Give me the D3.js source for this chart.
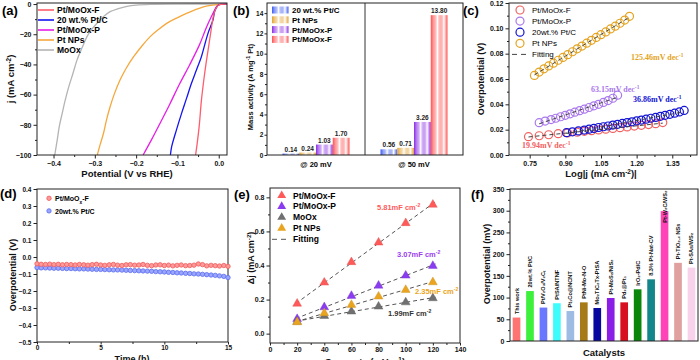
<!DOCTYPE html>
<html>
<head>
<meta charset="utf-8">
<script src="https://cdn.jsdelivr.net/npm/d3@7"></script>
<style>
body { margin: 0; background: #fff; }
svg { font-family: "Liberation Sans", Arial, sans-serif; }
</style>
</head>
<body>
<svg id="fig" width="700" height="360"></svg>
<script>
// ---------- (a) LSV curves ----------
const lsvNames = ["Pt/MoOx-F", "20 wt.% Pt/C", "Pt/MoOx-P", "Pt NPs", "MoOx"];
const lsvPotF = [0.02, 0.005, 0.0, -0.005, -0.010, -0.015, -0.020, -0.025, -0.030, -0.036, -0.042, -0.047, -0.052, -0.056];
const lsvJF   = [0, -0.2, -0.6, -2, -5, -11, -20, -29, -38, -50, -64, -80, -92, -100];
const lsvPotC = [0.02, 0.005, 0.0, -0.005, -0.010, -0.014, -0.020, -0.026, -0.034, -0.042, -0.054, -0.066, -0.078, -0.090, -0.102, -0.114, -0.117];
const lsvJC   = [0, -0.2, -0.5, -2, -5, -10.6, -15, -19.4, -27, -34.9, -43.7, -52.5, -62.5, -72.4, -83, -94.5, -100];
const lsvPotP = [0.02, 0.005, 0.0, -0.005, -0.010, -0.018, -0.026, -0.034, -0.047, -0.070, -0.094, -0.118, -0.142, -0.162, -0.183];
const lsvJP   = [0, -0.2, -0.5, -1.5, -4, -8.4, -13, -18.3, -27.2, -40, -52.5, -66, -79, -89.5, -100];
const lsvPotN = [0.02, 0.0, -0.010, -0.030, -0.055, -0.078, -0.102, -0.126, -0.146, -0.166, -0.186, -0.206, -0.224, -0.239, -0.252, -0.263, -0.272, -0.279, -0.287, -0.294];
const lsvJN   = [0, -0.3, -0.6, -1.3, -3.5, -6.2, -9.3, -12.8, -16.9, -21.6, -27.8, -34.9, -42.5, -50.3, -59, -68, -77, -85.6, -93, -100];
const lsvPotM = [0.02, -0.10, -0.166, -0.200, -0.222, -0.243, -0.263, -0.280, -0.295, -0.308, -0.319, -0.331, -0.343, -0.353, -0.363, -0.372, -0.379, -0.386, -0.391, -0.397];
const lsvJM   = [0, 0, -0.2, -0.7, -1.5, -3, -5, -8.5, -12.8, -17, -21.6, -29, -37, -46, -54.7, -64, -72.4, -81, -90, -100];

// ---------- (b) mass activity ----------
const maGroups = ["@ 20 mV", "@ 50 mV"];
const maSeries = ["20 wt.% Pt/C", "Pt NPs", "Pt/MoOx-P", "Pt/MoOx-F"];
const maPtC  = [0.14, 0.56];
const maPtNP = [0.24, 0.71];
const maP    = [1.03, 3.26];
const maF    = [1.70, 13.80];

// ---------- (c) Tafel ----------
const tafNames = ["Pt/MoOx-F", "Pt/MoOx-P", "20wt.% Pt/C", "Pt NPs"];
const tafSlopes = ["19.94", "63.15", "36.86", "125.46"];
const tafXF = [0.745, 0.79, 0.83, 0.87, 0.91, 0.95, 0.98, 1.01, 1.04, 1.07, 1.10, 1.13, 1.16, 1.19, 1.22, 1.25, 1.28, 1.31];
const tafYF = [0.0145, 0.0152, 0.016, 0.0168, 0.0174, 0.018, 0.0187, 0.0192, 0.0198, 0.0204, 0.021, 0.0216, 0.0222, 0.0228, 0.0234, 0.024, 0.0247, 0.0256];
const tafXP = [0.79, 0.815, 0.84, 0.86, 0.88, 0.90, 0.92, 0.94, 0.96, 0.98, 1.00, 1.02, 1.04, 1.06, 1.08, 1.10, 1.12];
const tafYP = [0.0255, 0.0268, 0.028, 0.029, 0.0302, 0.0313, 0.0325, 0.0338, 0.035, 0.0362, 0.0375, 0.0388, 0.040, 0.0415, 0.043, 0.0448, 0.0472];
const tafXC = [0.905, 0.93, 0.955, 0.98, 1.0, 1.02, 1.04, 1.06, 1.08, 1.10, 1.12, 1.14, 1.16, 1.18, 1.20, 1.22, 1.24, 1.26, 1.28, 1.30, 1.32, 1.34, 1.36, 1.38, 1.40];
const tafYC = [0.0176, 0.0183, 0.019, 0.0197, 0.0204, 0.021, 0.0217, 0.0223, 0.0229, 0.0236, 0.0242, 0.0249, 0.0256, 0.0262, 0.0269, 0.0276, 0.0283, 0.029, 0.0297, 0.0305, 0.0313, 0.0321, 0.033, 0.034, 0.0352];
const tafXN = [0.77, 0.79, 0.81, 0.83, 0.85, 0.87, 0.89, 0.91, 0.93, 0.95, 0.97, 0.99, 1.01, 1.03, 1.05, 1.07, 1.09, 1.11, 1.13, 1.15, 1.17];
const tafYN = [0.0628, 0.0655, 0.068, 0.0703, 0.0725, 0.0748, 0.077, 0.0792, 0.0815, 0.0838, 0.086, 0.0883, 0.0905, 0.0928, 0.095, 0.0972, 0.0995, 0.1017, 0.104, 0.1065, 0.1095];

// ---------- (d) stability ----------
const stabTime = [0, 0.33, 0.67, 1, 1.33, 1.67, 2, 2.33, 2.67, 3, 3.33, 3.67, 4, 4.33, 4.67, 5, 5.33, 5.67, 6, 6.33, 6.67, 7, 7.33, 7.67,
  8, 8.33, 8.67, 9, 9.33, 9.67, 10, 10.33, 10.67, 11, 11.33, 11.67, 12, 12.33, 12.67, 13, 13.33, 13.67, 14, 14.33, 14.67, 15];
const stabF = [-0.040, -0.043, -0.044, -0.042, -0.045, -0.043, -0.046, -0.044, -0.045, -0.047, -0.044, -0.046, -0.048, -0.045, -0.043, -0.047,
  -0.049, -0.046, -0.044, -0.048, -0.050, -0.046, -0.045, -0.048, -0.047, -0.044, -0.049, -0.051, -0.047, -0.046, -0.050, -0.048,
  -0.052, -0.049, -0.047, -0.051, -0.050, -0.048, -0.041, -0.045, -0.052, -0.049, -0.051, -0.053, -0.050, -0.055];
const stabC = [-0.062, -0.064, -0.064, -0.065, -0.066, -0.066, -0.067, -0.068, -0.068, -0.069, -0.070, -0.070, -0.071, -0.072, -0.073, -0.073,
  -0.074, -0.075, -0.076, -0.076, -0.077, -0.078, -0.079, -0.080, -0.081, -0.082, -0.083, -0.084, -0.086, -0.087, -0.088, -0.090,
  -0.091, -0.093, -0.094, -0.096, -0.097, -0.099, -0.100, -0.102, -0.104, -0.106, -0.108, -0.111, -0.114, -0.121];

// ---------- (e) double layer ----------
const scanRate = [20, 40, 60, 80, 100, 120];
const cdlF = [0.176, 0.300, 0.420, 0.535, 0.649, 0.757];
const cdlP = [0.086, 0.155, 0.222, 0.282, 0.341, 0.398];
const cdlM = [0.070, 0.104, 0.130, 0.159, 0.184, 0.208];
const cdlN = [0.067, 0.120, 0.169, 0.218, 0.257, 0.302];
const cdlLabels = ["5.81", "3.07", "1.99", "2.35"];

// ---------- (f) comparison ----------
const cmpNames = ["This work", "20wt.% Pt/C", "Pt/V₂O₃/V₂Cₜ", "PtSA/NTNF", "Pt₁Co@NCNT", "PtNi-Mo-N-O", "Mo₂TiC₂Tx-PtSA",
  "Pt-MoS₂/NiS₂", "Pd₁@Pt₁", "IrO₂-Pd/C", "8.3% Pt-Nat-CV", "Pt-W₂C/WS₂", "Pt-TiO₂₋ₓ NSs", "Pt-SAs/WS₂"];
const cmpValues = [54, 115, 77, 87, 69, 89, 76, 99, 89, 119, 142, 299, 180, 169];
const cmpColors = ["#ff7373", "#3cf03c", "#6a78ff", "#3ffcfc", "#9dbbe3", "#a67a16", "#06089e", "#8a1ee6",
  "#d6101e", "#0a860a", "#12868a", "#ff44b8", "#e0a0a0", "#f8d2ea"];

const svg = d3.select("#fig");
const defs = svg.append("defs");
const bold = "bold";

function rich(sel, parts) {
  parts.forEach(p => {
    if (typeof p === "string") sel.append("tspan").text(p);
    else sel.append("tspan").attr("baseline-shift", p.sup ? "super" : "sub").attr("font-size", "68%").text(p.sup || p.sub);
  });
  return sel;
}

function axes(g, box, xs, ys, o) {
  const xt = o.xTick || 3.5, xp = o.xPad === undefined ? 2.5 : o.xPad;
  const yt = o.yTick || 3.5, yp = o.yPad === undefined ? 2 : o.yPad;
  if (o.xMinor) g.append("g").attr("transform", `translate(0,${box.y1})`)
    .call(d3.axisBottom(xs).tickValues(o.xMinor).tickSize(2).tickFormat(""));
  if (o.xTicks) g.append("g").attr("transform", `translate(0,${box.y1})`)
    .call(d3.axisBottom(xs).tickValues(o.xTicks).tickSize(xt).tickPadding(xp).tickFormat(o.xFmt));
  if (o.yMinor) g.append("g").attr("transform", `translate(${box.x0},0)`)
    .call(d3.axisLeft(ys).tickValues(o.yMinor).tickSize(2).tickFormat(""));
  g.append("g").attr("transform", `translate(${box.x0},0)`)
    .call(d3.axisLeft(ys).tickValues(o.yTicks).tickSize(yt).tickPadding(yp).tickFormat(o.yFmt));
  g.selectAll(".domain").remove();
  g.selectAll("g").attr("font-family", null);
  g.selectAll(".tick text").attr("font-size", o.fs || 7).attr("font-weight", bold).attr("fill", "#111");
  g.selectAll(".tick line").attr("stroke", "#222");
  g.append("rect").attr("x", box.x0).attr("y", box.y0)
    .attr("width", box.x1 - box.x0).attr("height", box.y1 - box.y0)
    .attr("fill", "none").attr("stroke", "#222").attr("stroke-width", 1);
}

function yTitle(x, y, parts, fs) {
  rich(svg.append("text").attr("transform", `translate(${x},${y}) rotate(-90)`)
    .attr("text-anchor", "middle").attr("dy", "0.35em")
    .attr("font-size", fs).attr("font-weight", bold).attr("fill", "#111"), parts);
}
function xTitle(x, y, parts, fs) {
  rich(svg.append("text").attr("x", x).attr("y", y).attr("text-anchor", "middle")
    .attr("font-size", fs).attr("font-weight", bold).attr("fill", "#111"), parts);
}
function letter(x, y, t) {
  svg.append("text").attr("x", x).attr("y", y).attr("font-size", 13).attr("font-weight", bold).text(t);
}

// ================= (a) =================
{
  const box = {x0: 37, x1: 227, y0: 3, y1: 155};
  const x = d3.scaleLinear().domain([-0.44, 0.02]).range([box.x0, box.x1]);
  const y = d3.scaleLinear().domain([-100, 0.7]).range([box.y1, box.y0]);
  const g = svg.append("g");
  const curves = [
    {pot: lsvPotM, j: lsvJM, c: "#b4b4b4"},
    {pot: lsvPotN, j: lsvJN, c: "#f5a83c"},
    {pot: lsvPotP, j: lsvJP, c: "#e61ee6"},
    {pot: lsvPotC, j: lsvJC, c: "#1414f0"},
    {pot: lsvPotF, j: lsvJF, c: "#ff5c6c"}
  ];
  curves.forEach(cv => {
    g.append("path").datum(d3.zip(cv.pot, cv.j)).attr("d", d3.line().x(d => x(d[0])).y(d => y(d[1])).curve(d3.curveCatmullRom))
      .attr("fill", "none").attr("stroke", cv.c).attr("stroke-width", 1.3);
  });
  axes(g, box, x, y, {
    xTicks: [-0.4, -0.3, -0.2, -0.1, 0.0], xFmt: d3.format(".1f"), xMinor: [-0.35, -0.25, -0.15, -0.05],
    yTicks: [0, -20, -40, -60, -80, -100], yFmt: d3.format("d"), yMinor: [-10, -30, -50, -70, -90]
  });
  const lc = ["#ff5c6c", "#1414f0", "#e61ee6", "#f5a83c", "#b4b4b4"];
  lsvNames.forEach((n, i) => {
    const yy = 10 + i * 10;
    g.append("line").attr("x1", 38).attr("x2", 54).attr("y1", yy).attr("y2", yy).attr("stroke", lc[i]).attr("stroke-width", 1.6);
    g.append("text").attr("x", 57).attr("y", yy + 3).attr("font-size", 8.5).attr("font-weight", bold).text(n);
  });
  xTitle(127, 177, ["Potential (V vs RHE)"], 9.5);
  yTitle(11, 79, ["j (mA cm", {sup: "-2"}, ")"], 9.5);
  letter(2, 15, "(a)");
}

// ================= (b) =================
{
  const box = {x0: 267, x1: 463, y0: 3, y1: 155};
  const x0 = d3.scaleBand().domain(maGroups).range([box.x0, box.x1]);
  const x1 = d3.scaleBand().domain(maSeries).range([15.5, 82.5]);
  const y = d3.scaleLinear().domain([0, 15]).range([box.y1, box.y0]);
  const g = svg.append("g");
  const cols = ["#3d5cf2", "#e3a22e", "#8a2de6", "#ff5252"];
  const vals = [maPtC, maPtNP, maP, maF];
  cols.forEach((c, i) => {
    const gr = defs.append("linearGradient").attr("id", "gb" + i).attr("x1", "0").attr("x2", "1").attr("y1", "0").attr("y2", "0");
    [[0, c, 1], [0.18, c, 0.55], [0.4, "#fff", 1], [0.6, c, 0.45], [0.78, "#fff", 1], [1, c, 1]].forEach(s =>
      gr.append("stop").attr("offset", s[0]).attr("stop-color", s[1]).attr("stop-opacity", s[2]));
  });
  maGroups.forEach((grp, gi) => {
    maSeries.forEach((s, si) => {
      const v = vals[si][gi];
      const bx = x0(grp) + x1(s);
      g.append("rect").attr("x", bx).attr("y", y(v)).attr("width", x1.bandwidth()).attr("height", y(0) - y(v))
        .attr("fill", `url(#gb${si})`);
      g.append("text").attr("x", bx + x1.bandwidth() / 2).attr("y", y(v) - 2).attr("text-anchor", "middle")
        .attr("font-size", 6.5).attr("font-weight", bold).attr("fill", "#222").text(v.toFixed(2));
    });
    g.append("text").attr("x", x0(grp) + x0.bandwidth() / 2).attr("y", 166.5).attr("text-anchor", "middle")
      .attr("font-size", 7.5).attr("font-weight", bold).text(grp);
  });
  g.append("line").attr("x1", x0(maGroups[1])).attr("x2", x0(maGroups[1])).attr("y1", box.y0).attr("y2", box.y1).attr("stroke", "#333");
  axes(g, box, x0, y, {
    yTicks: [0, 2, 4, 6, 8, 10, 12, 14], yFmt: d3.format("d"), yMinor: [1, 3, 5, 7, 9, 11, 13],
    yTick: 2.5, yPad: 1.2, fs: 6.5
  });
  maSeries.forEach((n, i) => {
    const yy = 10 + i * 9.8;
    g.append("rect").attr("x", 272).attr("y", yy - 3.5).attr("width", 16.5).attr("height", 7).attr("fill", `url(#gb${i})`);
    g.append("text").attr("x", 292).attr("y", yy + 3).attr("font-size", 8).attr("font-weight", bold).text(n);
  });
  yTitle(250, 87, ["Mass activity (A mg", {sup: "-1"}, " Pt)"], 7.5);
  letter(233, 15, "(b)");
}

// ================= (c) =================
{
  const box = {x0: 509, x1: 697, y0: 3, y1: 155};
  const x = d3.scaleLinear().domain([0.663, 1.454]).range([box.x0, box.x1]);
  const y = d3.scaleLinear().domain([0, 0.12]).range([box.y1, box.y0]);
  const g = svg.append("g");
  const cols = ["#f26060", "#a978ec", "#1212d2", "#e4a321"];
  const sets = [[tafXF, tafYF], [tafXP, tafYP], [tafXC, tafYC], [tafXN, tafYN]];
  axes(g, box, x, y, {
    xTicks: [0.75, 0.90, 1.05, 1.20, 1.35], xFmt: d3.format(".2f"), xMinor: [0.825, 0.975, 1.125, 1.275, 1.425],
    yTicks: [0, 0.02, 0.04, 0.06, 0.08, 0.10, 0.12], yFmt: d3.format(".2f"), yMinor: [0.01, 0.03, 0.05, 0.07, 0.09, 0.11]
  });
  const order = [3, 1, 0, 2];
  order.forEach(i => {
    const pts = d3.zip(sets[i][0], sets[i][1]);
    g.append("g").selectAll("circle").data(pts).join("circle")
      .attr("cx", d => x(d[0])).attr("cy", d => y(d[1])).attr("r", 4)
      .attr("fill", "none").attr("stroke", cols[i]).attr("stroke-width", 1.2);
  });
  // least-squares fitting lines
  sets.forEach(s => {
    const mx = d3.mean(s[0]), my = d3.mean(s[1]);
    const b = d3.sum(s[0], (v, k) => (v - mx) * (s[1][k] - my)) / d3.sum(s[0], v => (v - mx) ** 2);
    const ex = d3.extent(s[0]);
    g.append("line").attr("x1", x(ex[0])).attr("x2", x(ex[1]))
      .attr("y1", y(my + b * (ex[0] - mx))).attr("y2", y(my + b * (ex[1] - mx)))
      .attr("stroke", "#444").attr("stroke-width", 1).attr("stroke-dasharray", "4,3");
  });
  const lab = [[522, 148], [591, 92], [633, 102], [631, 60]];
  tafSlopes.forEach((s, i) => {
    rich(g.append("text").attr("x", lab[i][0]).attr("y", lab[i][1]).attr("font-family", "Liberation Serif, serif")
      .attr("font-size", 8).attr("font-weight", bold).attr("fill", cols[i]), [s + "mV dec", {sup: "-1"}]);
  });
  tafNames.forEach((n, i) => {
    const yy = 10 + i * 11.1;
    g.append("circle").attr("cx", 520).attr("cy", yy).attr("r", 4).attr("fill", "none").attr("stroke", cols[i]).attr("stroke-width", 1.2);
    g.append("text").attr("x", 532).attr("y", yy + 3).attr("font-size", 8).text(n);
  });
  g.append("line").attr("x1", 512).attr("x2", 528).attr("y1", 54.4).attr("y2", 54.4)
    .attr("stroke", "#444").attr("stroke-dasharray", "5,4");
  g.append("text").attr("x", 532).attr("y", 57.4).attr("font-size", 8).text("Fitting");
  xTitle(601, 177, ["Log|j (mA cm", {sup: "-2"}, ")|"], 9.5);
  yTitle(481, 79, ["Overpotential (V)"], 9);
  letter(463, 15, "(c)");
}

// ================= (d) =================
{
  const box = {x0: 37, x1: 228, y0: 189, y1: 342};
  const x = d3.scaleLinear().domain([0, 15]).range([box.x0, box.x1]);
  const y = d3.scaleLinear().domain([-0.5, 0.4]).range([box.y1, box.y0]);
  const g = svg.append("g");
  axes(g, box, x, y, {
    xTicks: [0, 5, 10, 15], xFmt: d3.format("d"), xMinor: [2.5, 7.5, 12.5], xTick: 2.5, xPad: 1,
    yTicks: [0.4, 0.3, 0.2, 0.1, 0, -0.1, -0.2, -0.3, -0.4, -0.5], yFmt: d3.format(".1f"), fs: 6.5
  });
  const series = [[stabC, "#5a6cf0", "#9aa6ff"], [stabF, "#f05a5a", "#ff9a9a"]];
  series.forEach(s => {
    g.append("g").selectAll("circle").data(d3.zip(stabTime, s[0])).join("circle")
      .attr("cx", d => x(d[0])).attr("cy", d => y(d[1])).attr("r", 2.2)
      .attr("fill", s[2]).attr("stroke", s[1]).attr("stroke-width", 0.8);
  });
  const leg = [["#f05a5a", "#ff9a9a", ["Pt/MoO", {sub: "x"}, "-F"]], ["#5a6cf0", "#9aa6ff", ["20wt.% Pt/C"]]];
  leg.forEach((l, i) => {
    const yy = 198.3 + i * 12.6;
    g.append("circle").attr("cx", 49).attr("cy", yy).attr("r", 2.2).attr("fill", l[1]).attr("stroke", l[0]).attr("stroke-width", 0.8);
    rich(g.append("text").attr("x", 55).attr("y", yy + 2.6).attr("font-size", 7).attr("font-weight", bold), l[2]);
  });
  xTitle(132, 362, ["Time (h)"], 9);
  yTitle(13, 275, ["Overpotential (V)"], 9);
  letter(0, 198, "(d)");
}

// ================= (e) =================
{
  const box = {x0: 270, x1: 460, y0: 188, y1: 343};
  const x = d3.scaleLinear().domain([0, 140]).range([box.x0, box.x1]);
  const y = d3.scaleLinear().domain([-0.055, 0.855]).range([box.y1, box.y0]);
  const g = svg.append("g");
  axes(g, box, x, y, {
    xTicks: [0, 20, 40, 60, 80, 100, 120, 140], xFmt: d3.format("d"), xMinor: [10, 30, 50, 70, 90, 110, 130],
    xTick: 2.5, xPad: 1.5,
    yTicks: [0, 0.2, 0.4, 0.6, 0.8], yFmt: d3.format(".1f"), yMinor: [0.1, 0.3, 0.5, 0.7]
  });
  const cols = ["#ff5a5a", "#8a3cf0", "#707070", "#eaa520"];
  const sets = [cdlF, cdlP, cdlM, cdlN];
  sets.forEach(s => {
    const mx = d3.mean(scanRate), my = d3.mean(s);
    const b = d3.sum(scanRate, (v, k) => (v - mx) * (s[k] - my)) / d3.sum(scanRate, v => (v - mx) ** 2);
    g.append("line").attr("x1", x(19)).attr("x2", x(122))
      .attr("y1", y(my + b * (19 - mx))).attr("y2", y(my + b * (122 - mx)))
      .attr("stroke", "#555").attr("stroke-width", 1).attr("stroke-dasharray", "4,3");
  });
  const tri = d3.symbol(d3.symbolTriangle, 34);
  sets.forEach((s, i) => {
    g.append("g").selectAll("path").data(d3.zip(scanRate, s)).join("path")
      .attr("d", tri).attr("transform", d => `translate(${x(d[0])},${y(d[1])})`)
      .attr("fill", cols[i]).attr("stroke", d3.color(cols[i]).darker(0.4)).attr("stroke-width", 0.4);
  });
  const lab = [[377, 210], [397, 257], [388, 316], [415, 294]];
  const lcols = ["#ff5a5a", "#9a40f0", "#333", "#eaa520"];
  cdlLabels.forEach((s, i) => {
    rich(g.append("text").attr("x", lab[i][0]).attr("y", lab[i][1]).attr("font-size", 7.5).attr("font-weight", bold)
      .attr("fill", lcols[i]), [s + "mF cm", {sup: "-2"}]);
  });
  const names = ["Pt/MoOx-F", "Pt/MoOx-P", "MoOx", "Pt NPs"];
  names.forEach((n, i) => {
    const yy = 195.5 + i * 10.9;
    g.append("path").attr("d", tri).attr("transform", `translate(281.7,${yy})`).attr("fill", cols[i]);
    g.append("text").attr("x", 293).attr("y", yy + 3).attr("font-size", 8.5).attr("font-weight", bold).text(n);
  });
  g.append("line").attr("x1", 272).attr("x2", 290).attr("y1", 239.3).attr("y2", 239.3)
    .attr("stroke", "#555").attr("stroke-dasharray", "5,4");
  g.append("text").attr("x", 293).attr("y", 242.3).attr("font-size", 8.5).attr("font-weight", bold).text("Fitting");
  xTitle(365, 364.5, ["Scan rate (mV s", {sup: "-1"}, ")"], 9.5);
  yTitle(251, 258, ["\u0394j (mA cm", {sup: "-2"}, ")"], 9);
  letter(234, 199, "(e)");
}

// ================= (f) =================
{
  const box = {x0: 510, x1: 698, y0: 189, y1: 341};
  const x = d3.scaleBand().domain(cmpNames).range([box.x0, box.x1]).paddingInner(0.43).paddingOuter(0.2);
  const y = d3.scaleLinear().domain([0, 350]).range([box.y1, box.y0]);
  const g = svg.append("g");
  g.append("g").selectAll("rect").data(cmpValues).join("rect")
    .attr("x", (d, i) => x(cmpNames[i])).attr("y", d => y(d))
    .attr("width", x.bandwidth()).attr("height", d => y(0) - y(d))
    .attr("fill", (d, i) => cmpColors[i]);
  axes(g, box, x, y, {
    yTicks: [0, 50, 100, 150, 200, 250, 300, 350], yFmt: d3.format("d"), yMinor: [25, 75, 125, 175, 225, 275, 325]
  });
  cmpNames.forEach((n, i) => {
    const cx = x(n) + x.bandwidth() / 2;
    const t = g.append("text").attr("font-size", 5.6).attr("font-weight", bold).attr("fill", "#111").text(n);
    const len = t.node().getComputedTextLength();
    let start = y(cmpValues[i]) - 3.5;
    if (start - len < box.y0 + 1.5) start = box.y0 + 1.5 + len;
    t.attr("transform", `translate(${cx + 2},${start}) rotate(-90)`);
  });
  xTitle(604, 356, ["Catalysts"], 9.5);
  yTitle(487, 264, ["Overpotential (mV)"], 9);
  letter(471, 199, "(f)");
}
</script>
</body>
</html>
